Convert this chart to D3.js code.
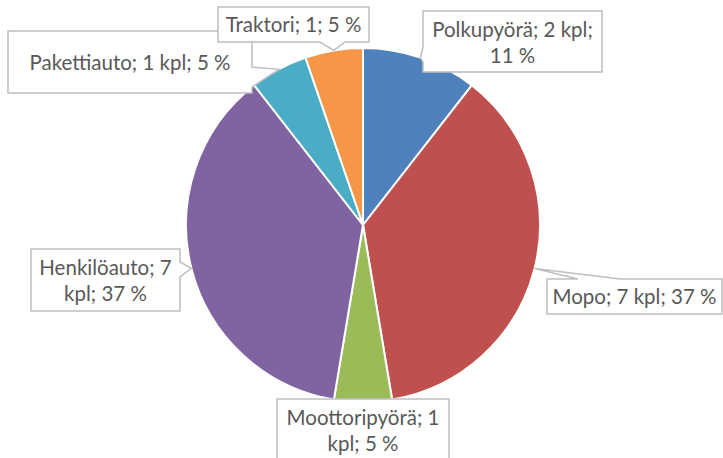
<!DOCTYPE html>
<meta charset="utf-8">
<style>
    body { margin: 0; background: #fff; }
    .lbl text {
        font-family: Lato, sans-serif;
        font-size: 20.5px;
        fill: #595959;
    }
</style>
<body>
<div id="chart"></div>

<script src="https://cdn.jsdelivr.net/npm/d3@7"></script>
<script>
    // data
    var categories = ["Polkupyörä", "Mopo", "Moottoripyörä", "Henkilöauto", "Pakettiauto", "Traktori"];
    var counts = [2, 7, 1, 7, 1, 1];
    var units = ["kpl", "kpl", "kpl", "kpl", "kpl", ""];
    var colors = ["#4f81bd", "#c0504d", "#9bbb59", "#8064a2", "#4bacc6", "#f79646"];

    // label boxes (x, y, w, h) + pointer base on one edge
    var boxes = [
        {x: 423, y: 11, w: 179, h: 61, lines: 2, side: "left", b0: 47, b1: 62},
        {x: 547, y: 279, w: 175, h: 35, lines: 1, side: "top", b0: 578, b1: 620},
        {x: 277, y: 399, w: 172, h: 66, lines: 2, side: null},
        {x: 31, y: 249, w: 149, h: 62, lines: 2, side: "right", b0: 262, b1: 277},
        {x: 8, y: 31, w: 244, h: 62, lines: 1, side: "right", b0: 67, b1: 87},
        {x: 218, y: 7, w: 151, h: 35, lines: 1, side: "bottom", b0: 320, b1: 345}
    ];

    var width = 723,
        height = 458,
        cx = 363, cy = 225, r = 177;

    var svg = d3.select("#chart").append("svg")
        .attr("width", width)
        .attr("height", height);

    var total = d3.sum(counts);
    var data = categories.map(function (c, i) {
        return {name: c, value: counts[i], unit: units[i], color: colors[i], box: boxes[i]};
    });

    var pie = d3.pie().sort(null).value(function (d) { return d.value; });
    var arc = d3.arc().innerRadius(0).outerRadius(r);
    var arcs = pie(data);

    var g = svg.append("g").attr("transform", "translate(" + cx + "," + cy + ")");

    g.selectAll("path")
        .data(arcs)
        .enter().append("path")
        .attr("d", arc)
        .attr("fill", function (d) { return d.data.color; })
        .attr("stroke", "#fff")
        .attr("stroke-width", 2)
        .attr("stroke-linejoin", "round");

    function labelText(d) {
        var pct = Math.round(d.value / total * 100) + " %";
        var mid = d.unit ? d.value + " " + d.unit : d.value;
        return d.name + "; " + mid + "; " + pct;
    }

    // manual line breaks matching the picture
    function splitLines(d, s) {
        if (d.box.lines === 1) return [s];
        if (d.name === "Polkupyörä") return ["Polkupyörä; 2 kpl;", "11 %"];
        var idx = s.indexOf(" kpl");
        return [s.slice(0, idx), s.slice(idx + 1)];
    }

    function calloutPath(b, tip) {
        var x0 = b.x, y0 = b.y, x1 = b.x + b.w, y1 = b.y + b.h;
        var p = [[x0, y0]];
        if (b.side === "top") p.push([b.b0, y0], tip, [b.b1, y0]);
        p.push([x1, y0]);
        if (b.side === "right") p.push([x1, b.b0], tip, [x1, b.b1]);
        p.push([x1, y1]);
        if (b.side === "bottom") p.push([b.b1, y1], tip, [b.b0, y1]);
        p.push([x0, y1]);
        if (b.side === "left") p.push([x0, b.b1], tip, [x0, b.b0]);
        return "M" + p.map(function (q) { return q.join(","); }).join("L") + "Z";
    }

    var lbl = svg.selectAll(".lbl")
        .data(arcs)
        .enter().append("g")
        .attr("class", "lbl");

    lbl.append("path")
        .attr("d", function (d) {
            var a = (d.startAngle + d.endAngle) / 2;
            var tip = [cx + r * Math.sin(a), cy - r * Math.cos(a)];
            return calloutPath(d.data.box, tip);
        })
        .attr("fill", "#fff")
        .attr("stroke", "#bfbfbf")
        .attr("stroke-width", 1.5);

    lbl.each(function (d) {
        var b = d.data.box;
        var lines = splitLines(d.data, labelText(d.data));
        var lh = 26;
        var top = b.lines === 1 ? b.y + b.h / 2 + 7.5 : b.y + b.h / 2 - lh / 2 + 8;
        if (d.data.name === "Moottoripyörä") top = 425;
        var t = d3.select(this).append("text")
            .attr("text-anchor", "middle");
        lines.forEach(function (s, i) {
            t.append("tspan")
                .attr("x", b.x + b.w / 2)
                .attr("y", top + i * lh)
                .text(s);
        });
    });
</script>
</body>
